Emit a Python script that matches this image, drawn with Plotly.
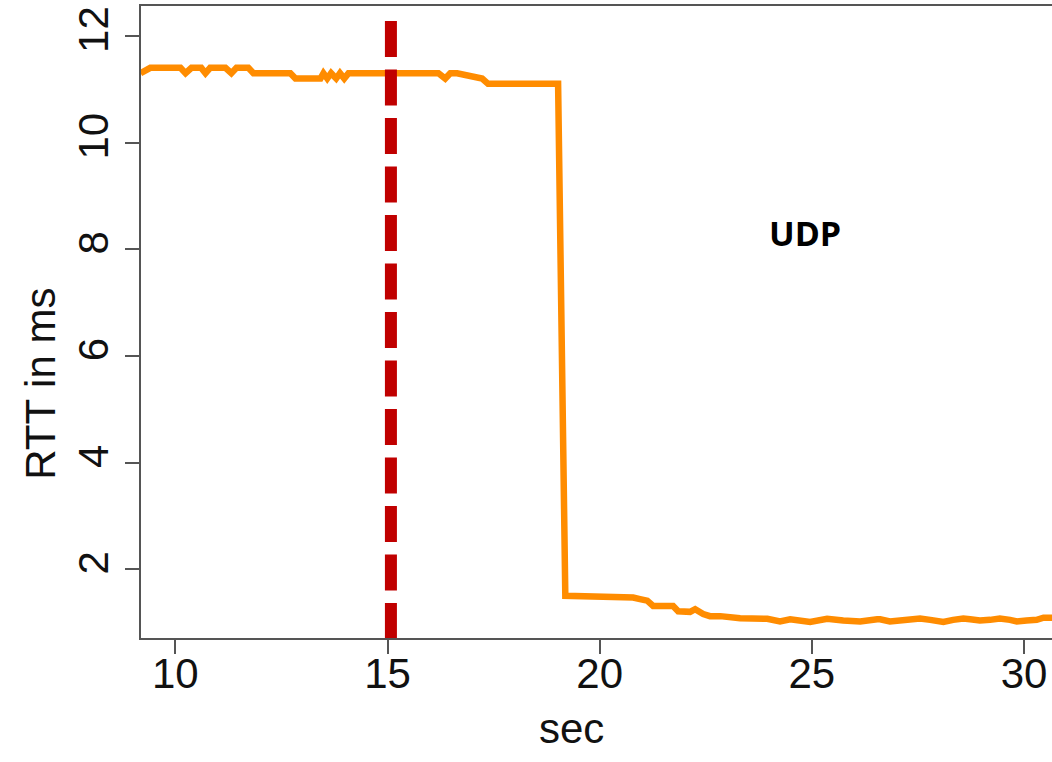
import plotly.graph_objects as go

# RTT trace (seconds, milliseconds)
time_s = [
    9.18, 9.41, 10.12, 10.24, 10.38, 10.61, 10.71, 10.82, 11.18, 11.32, 11.44,
    11.72, 11.84, 12.71, 12.83, 13.42, 13.49, 13.58, 13.67, 13.79, 13.88, 13.98,
    14.08, 16.20, 16.36, 16.48, 16.64, 17.23, 17.37, 19.02,
    19.19, 19.78, 19.85, 20.48, 20.79, 20.95, 21.12, 21.26, 21.43, 21.73, 21.85,
    22.13, 22.25, 22.44, 22.60, 22.84, 23.31, 23.95, 24.25, 24.49, 24.96, 25.36,
    25.74, 26.14, 26.54, 26.61, 26.84, 27.08, 27.31, 27.55, 27.79, 27.94, 28.10,
    28.33, 28.57, 28.73, 28.96, 29.20, 29.43, 29.67, 29.83, 30.06, 30.30, 30.46,
    30.65, 30.80,
]
rtt_ms = [
    11.3, 11.4, 11.4, 11.3, 11.4, 11.4, 11.3, 11.4, 11.4, 11.3, 11.4,
    11.4, 11.3, 11.3, 11.2, 11.2, 11.3, 11.2, 11.3, 11.2, 11.3, 11.2,
    11.3, 11.3, 11.2, 11.3, 11.3, 11.2, 11.1, 11.1,
    1.50, 1.50, 1.47, 1.47, 1.47, 1.44, 1.41, 1.31, 1.31, 1.31, 1.21,
    1.20, 1.25, 1.16, 1.12, 1.12, 1.08, 1.07, 1.02, 1.06, 1.01, 1.07,
    1.04, 1.02, 1.06, 1.06, 1.02, 1.04, 1.04, 1.075, 1.05, 1.04, 1.01,
    1.05, 1.075, 1.06, 1.04, 1.05, 1.075, 1.05, 1.02, 1.04, 1.05, 1.09,
    1.10, 1.09,
]

# event marker
event_time = 15.08
event_span = [0.71, 12.28]

x_ticks = [10, 15, 20, 25, 30]
y_ticks = [2, 4, 6, 8, 10, 12]
x_range = [9.19, 30.66]
y_range = [0.71, 12.56]

label_font = dict(family="Liberation Sans, Arial, sans-serif", size=42, color="#111111")
axis_col = "#555555"

fig = go.Figure()
fig.add_trace(go.Scatter(
    x=time_s, y=rtt_ms, mode="lines",
    line=dict(color="#FF8C00", width=6.5),
    showlegend=False, hoverinfo="skip",
))
fig.add_trace(go.Scatter(
    x=[event_time, event_time], y=[event_span[1], event_span[0]], mode="lines",
    line=dict(color="#C00000", width=12, dash="36px,12.5px"),
    showlegend=False, hoverinfo="skip",
))

fig.update_xaxes(
    range=x_range, tickvals=x_ticks, ticktext=[str(v) for v in x_ticks],
    showgrid=False, zeroline=False,
    showline=True, linecolor=axis_col, linewidth=2, mirror=True,
    ticks="outside", ticklen=14, tickwidth=2, tickcolor=axis_col,
    tickfont=label_font, ticklabelstandoff=-16,
)
fig.update_yaxes(
    range=y_range, tickvals=y_ticks, ticktext=[str(v) for v in y_ticks],
    showgrid=False, zeroline=False,
    showline=True, linecolor=axis_col, linewidth=2, mirror=False,
    ticks="outside", ticklen=14, tickwidth=2, tickcolor=axis_col,
    tickfont=label_font, tickangle=-90,
)

fig.add_annotation(text="sec", xref="paper", yref="paper", x=0.473, y=-0.143,
                   showarrow=False, font=label_font, xanchor="center", yanchor="middle")
fig.add_annotation(text="RTT in ms", xref="paper", yref="paper", x=-0.11, y=0.402,
                   showarrow=False, font=label_font, textangle=-90,
                   xanchor="center", yanchor="middle")
fig.add_annotation(text="<b>UDP</b>", x=24.83, y=8.3, showarrow=False,
                   font=dict(family="Open Sans, sans-serif", size=34, color="#000000"),
                   xanchor="center", yanchor="middle")

fig.update_layout(
    width=1052, height=762,
    margin=dict(l=141, r=0, t=6, b=124),
    plot_bgcolor="white", paper_bgcolor="white",
)

fig.write_html("out.html")
